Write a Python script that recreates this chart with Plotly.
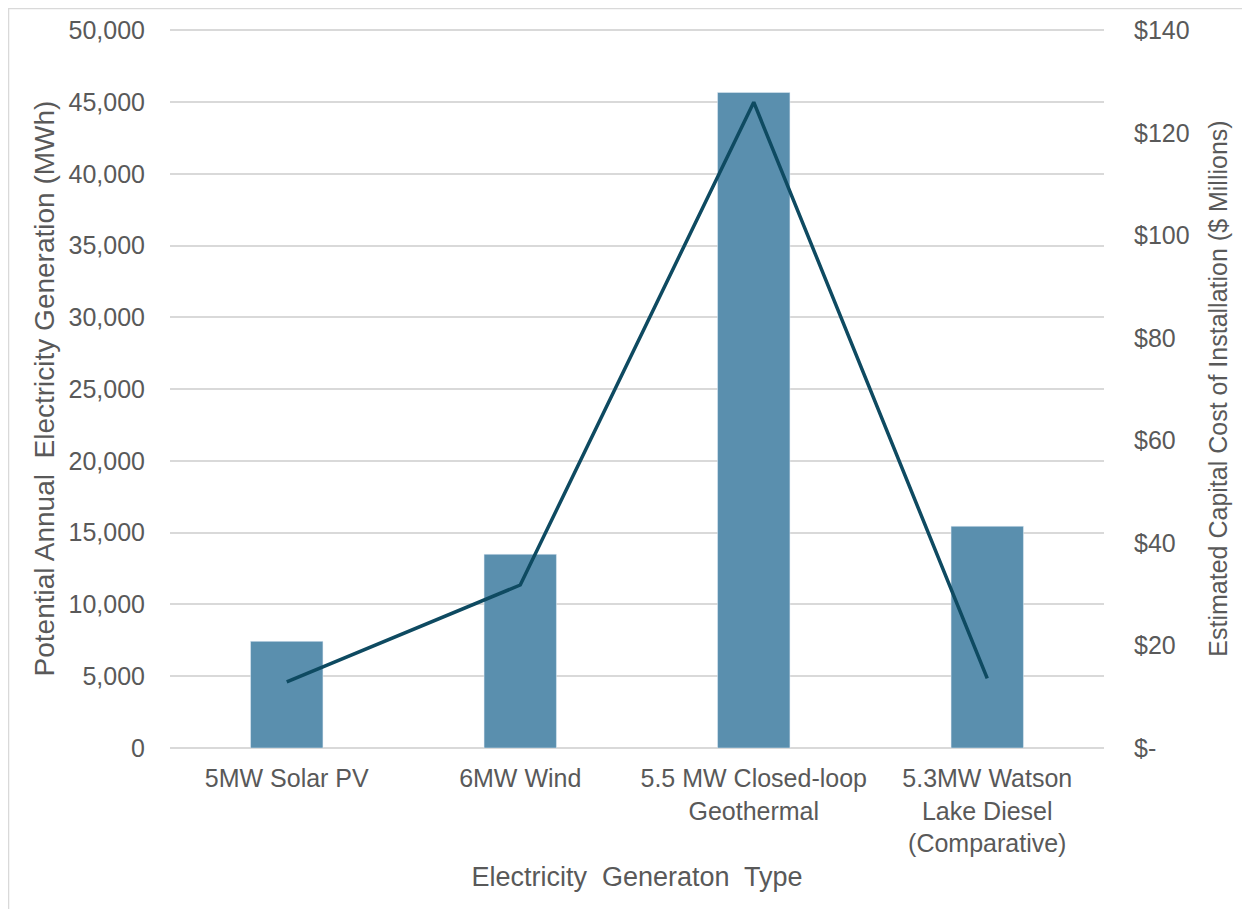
import plotly.graph_objects as go

categories = ["5MW Solar PV", "6MW Wind", "5.5 MW Closed-loop<br>Geothermal",
              "5.3MW Watson<br>Lake Diesel<br>(Comparative)"]
generation_mwh = [7430, 13500, 45680, 15450]
capital_cost_musd = [12.9, 31.8, 126.0, 13.6]

left_ticks = [0, 5000, 10000, 15000, 20000, 25000, 30000, 35000, 40000, 45000, 50000]
right_ticks = [0, 20, 40, 60, 80, 100, 120, 140]
right_labels = ["$-", "$20", "$40", "$60", "$80", "$100", "$120", "$140"]

FONT = "Liberation Sans, Arial, sans-serif"
TXT = "#595959"
TOP_PAD = 1.002  # small headroom so the top gridline is drawn

fig = go.Figure()
fig.add_trace(go.Bar(x=categories, y=generation_mwh, marker_color="#5a8fae",
                     width=0.31, yaxis="y", name="Generation"))
fig.add_trace(go.Scatter(x=categories, y=capital_cost_musd, mode="lines",
                         line=dict(color="#0e4a61", width=3.5), yaxis="y2", name="Cost"))

fig.update_layout(
    width=1242, height=901,
    margin=dict(l=162, r=146, t=21, b=161),
    paper_bgcolor="white", plot_bgcolor="white",
    showlegend=False,
    font=dict(family=FONT, color=TXT, size=25),
    xaxis=dict(showgrid=False, showline=False, ticks="", tickfont=dict(size=25),
               automargin=False, ticklabelstandoff=13,
               title=dict(text="Electricity  Generaton  Type", font=dict(size=27), standoff=11)),
    yaxis=dict(range=[0, 50000 * TOP_PAD], tickvals=left_ticks, tickformat=",", showgrid=True,
               gridcolor="#d9d9d9", gridwidth=1.5, zeroline=True, zerolinecolor="#d9d9d9",
               zerolinewidth=1.5, ticks="", ticklabelstandoff=24, tickfont=dict(size=25),
               automargin=False,
               title=dict(text="Potential Annual  Electricity Generation (MWh)",
                          font=dict(size=28), standoff=5)),
    yaxis2=dict(range=[0, 140 * TOP_PAD], overlaying="y", side="right", tickvals=right_ticks,
                ticktext=right_labels, showgrid=False, zeroline=False, ticks="",
                ticklabelstandoff=29, tickfont=dict(size=25), automargin=False,
                title=dict(text="Estimated Capital Cost of Installation ($ Millions)",
                           font=dict(size=25), standoff=20)),
)
fig.add_shape(type="rect", xref="paper", yref="paper", x0=-0.1729, x1=1.3, y0=-0.4, y1=1.0285,
              line=dict(color="#d9d9d9", width=1.5), layer="below")
fig.write_html("out.html")
